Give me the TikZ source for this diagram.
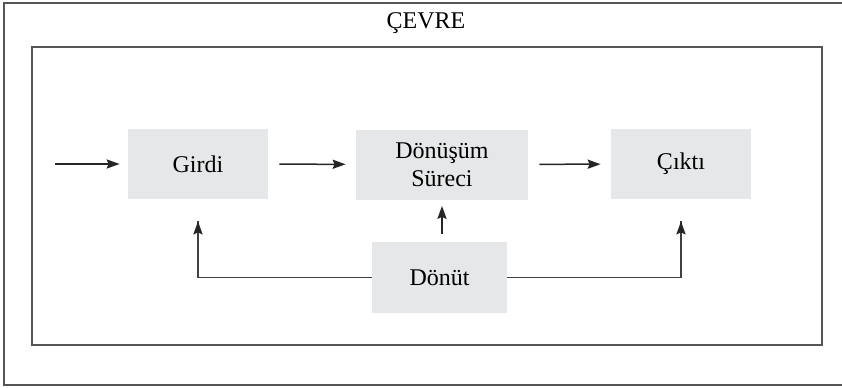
\documentclass[tikz,border=0pt]{standalone}
\usepackage{fontspec}
\setmainfont{Liberation Serif}
\usepackage{tikz}
\usetikzlibrary{arrows.meta}

\definecolor{boxfill}{HTML}{E6E7E8}
\definecolor{frame}{HTML}{555555}

\begin{document}
\begin{tikzpicture}
        [
        x=0.5pt, y=-0.5pt,
        align=center,
        font=\fontsize{12}{14}\selectfont,
        stage/.style={rectangle, fill=boxfill, minimum height=35pt, inner sep=0pt},
        frame/.style={draw=frame, line width=0.9pt},
        arr/.style={draw=black!85, line width=0.75pt, -{Stealth[length=6.5pt, width=4.6pt, inset=1pt]}},
        feed/.style={draw=black!75, line width=0.8pt},
        ]
                \useasboundingbox (0,0) rectangle (842,387);

                % frames
                \draw[frame] (4,3) rectangle (852,385);
                \draw[frame] (32,47) rectangle (822,345);
                \node (cevre) at (426,23) {ÇEVRE};

                % stages
                \node[stage, minimum width=70pt] (girdi) at (198,164) {Girdi};
                \node[stage, minimum width=86pt] (surec) at (442,164.5) {Dönüşüm\\Süreci};
                \node[stage, minimum width=70pt] (cikti) at (681,164) {Çıktı};
                \node[stage, minimum width=67.5pt, minimum height=35.5pt] (donut) at (439.5,277.5) {Dönüt};

                % free end
                \coordinate (in) at (55,164);

                % drawing code
                \draw[arr, shorten >=4pt] (in) -- (girdi);
                \foreach \from/\to in {girdi/surec,surec/cikti}
                        \draw[arr, shorten <=5.5pt, shorten >=5pt] (\from) -- (\to);
                \draw[arr, shorten <=4pt, shorten >=3pt] (donut.north -| surec) -- (surec.south);
                \draw[feed] (donut.west) -| ([yshift=-11pt]girdi.south);
                \draw[feed] (donut.east) -| ([yshift=-11pt]cikti.south);
                \foreach \to in {girdi,cikti}
                        \draw[arr] ([yshift=-12pt]\to.south) -- ([yshift=-11pt]\to.south);
        \end{tikzpicture}
\end{document}
